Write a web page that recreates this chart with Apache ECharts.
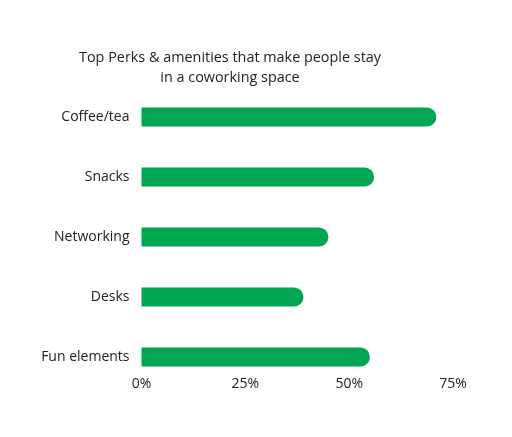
<!DOCTYPE html>
<html>
<head>
<meta charset="utf-8">
<script src="https://cdn.jsdelivr.net/npm/echarts@6/dist/echarts.min.js"></script>
<style>html,body{margin:0;padding:0;background:#fff}#c{width:512px;height:437px}</style>
</head>
<body>
<div id="c"></div>
<script>
const categories = ['Coffee/tea', 'Snacks', 'Networking', 'Desks', 'Fun elements'];
const values = [71, 56, 45, 39, 55];
const tickValues = [0, 25, 50, 75];

const chart = echarts.init(document.getElementById('c'));
chart.setOption({
  backgroundColor: '#ffffff',
  animation: false,
  title: {
    text: 'Top Perks & amenities that make people stay\nin a coworking space',
    left: 225,
    top: 43,
    textAlign: 'center',
    textStyle: { fontFamily: 'Open Sans', fontSize: 14.4, fontWeight: 'normal', color: '#222', lineHeight: 20 }
  },
  grid: { left: 141.5, right: 59, top: 87, height: 300 },
  xAxis: {
    type: 'value',
    min: 0, max: 75, interval: 25,
    axisLine: { show: false },
    axisTick: { show: false },
    splitLine: { show: false },
    axisLabel: {
      margin: -10,
      fontFamily: 'Open Sans', fontSize: 14, color: '#222',
      formatter: v => tickValues.includes(v) ? v + '%' : ''
    }
  },
  yAxis: {
    type: 'category',
    data: categories,
    inverse: true,
    axisLine: { show: false },
    axisTick: { show: false },
    axisLabel: { margin: 12, fontFamily: 'Open Sans', fontSize: 14, color: '#222' }
  },
  series: [{
    type: 'bar',
    data: values,
    barWidth: 19,
    itemStyle: { color: '#00a651', borderRadius: [0, 9.5, 9.5, 0] }
  }]
});
</script>
</body>
</html>
